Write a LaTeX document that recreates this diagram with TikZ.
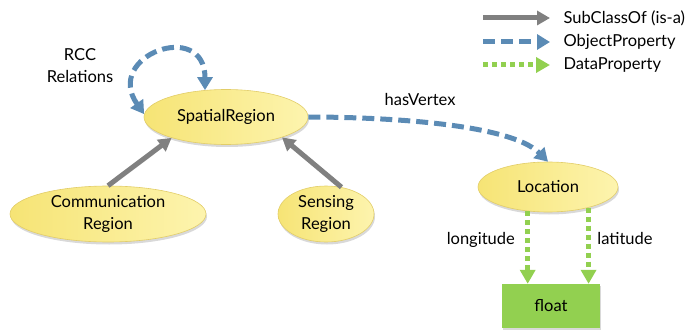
\documentclass[tikz,border=0pt]{standalone}
\usepackage{fontspec}
\setmainfont{Lato}
\usetikzlibrary{arrows.meta,shapes.geometric,shadows}
\definecolor{subgray}{HTML}{808080}
\definecolor{objblue}{HTML}{5B8BB5}
\definecolor{datagreen}{HTML}{92D050}
\definecolor{ovaldark}{HTML}{F6E475}
\definecolor{ovallight}{HTML}{FDF4AE}
\definecolor{ovalline}{HTML}{E2CD68}
\tikzset{
	labeltext/.style={font=\fontsize{16.5}{22}\selectfont, align=center},
	classnode/.style={labeltext, ellipse, draw=ovalline, line width=0.6pt, left color=ovaldark, right color=ovallight,
		drop shadow={shadow xshift=1pt, shadow yshift=-2.5pt, opacity=0.3}, inner sep=0pt},
	literalbox/.style={labeltext, rectangle, fill=datagreen, minimum width=98pt, minimum height=44pt,
		drop shadow={shadow xshift=1pt, shadow yshift=-2pt, opacity=0.3}},
	subclass/.style={draw=subgray, line width=5pt, -{Triangle[length=13pt,width=14pt]}},
	objprop/.style={draw=objblue, line width=5pt, dash pattern=on 12pt off 6pt, -{Triangle[length=13pt,width=15pt]}},
	dataprop/.style={draw=datagreen, line width=5pt, dash pattern=on 5pt off 4pt, -{Triangle[length=14pt,width=15pt]}}
}

\begin{document}
\begin{tikzpicture}[x=1pt, y=-1pt]
			%%%%% START %%%%%
			\useasboundingbox (0, 0) rectangle (692, 331);
			
			\node[classnode, minimum width=164pt, minimum height=55pt] (sr) at (226, 117) {SpatialRegion};
			\node[classnode, minimum width=196pt, minimum height=56pt] (comm) at (108, 214) {Communication\\Region};
			\node[classnode, minimum width=96pt, minimum height=56pt] (sens) at (326, 214) {Sensing\\Region};
			\node[classnode, minimum width=140pt, minimum height=50pt] (loc) at (548, 187) {Location};
			\node[literalbox] (flt) at (551, 306) {float};
			
			\draw[subclass] (comm.north) -- (sr.201);
			\draw[subclass] (sens.60) -- (sr.340);
			
			\node[labeltext] (rcc) at (80, 66) {RCC\\Relations};
			\draw[objprop, {Triangle[length=13pt,width=15pt]}-{Triangle[length=13pt,width=15pt]}] (sr.178) to[out=125, in=90, looseness=2.8] (sr.128);
			\draw[objprop] (sr.east) to[out=0, in=135, looseness=0.6] node[labeltext, pos=0.45, above=11pt] (hv) {hasVertex} (loc.north);
			
			\draw[dataprop] (loc.230) -- (loc.230 |- flt.north) node[labeltext, pos=0.4, left=7pt] (lon) {longitude};
			\draw[dataprop] (loc.333) -- (loc.333 |- flt.north) node[labeltext, pos=0.4, right=3pt] (lat) {latitude};
			
			% legend
			\node[labeltext, anchor=west] (lg1) at (560, 18) {SubClassOf (is-a)};
			\node[labeltext, anchor=west] (lg2) at (560, 42) {ObjectProperty};
			\node[labeltext, anchor=west] (lg3) at (560, 65) {DataProperty};
			\coordinate (lg1a) at (483, 18);
			\coordinate (lg2a) at (483, 42);
			\coordinate (lg3a) at (483, 65);
			\draw[subclass] (lg1a) -- ([xshift=-10pt]lg1.west);
			\draw[objprop] (lg2a) -- ([xshift=-10pt]lg2.west);
			\draw[dataprop] (lg3a) -- ([xshift=-10pt]lg3.west);
			%%%%% END %%%%%
\end{tikzpicture}
\end{document}
